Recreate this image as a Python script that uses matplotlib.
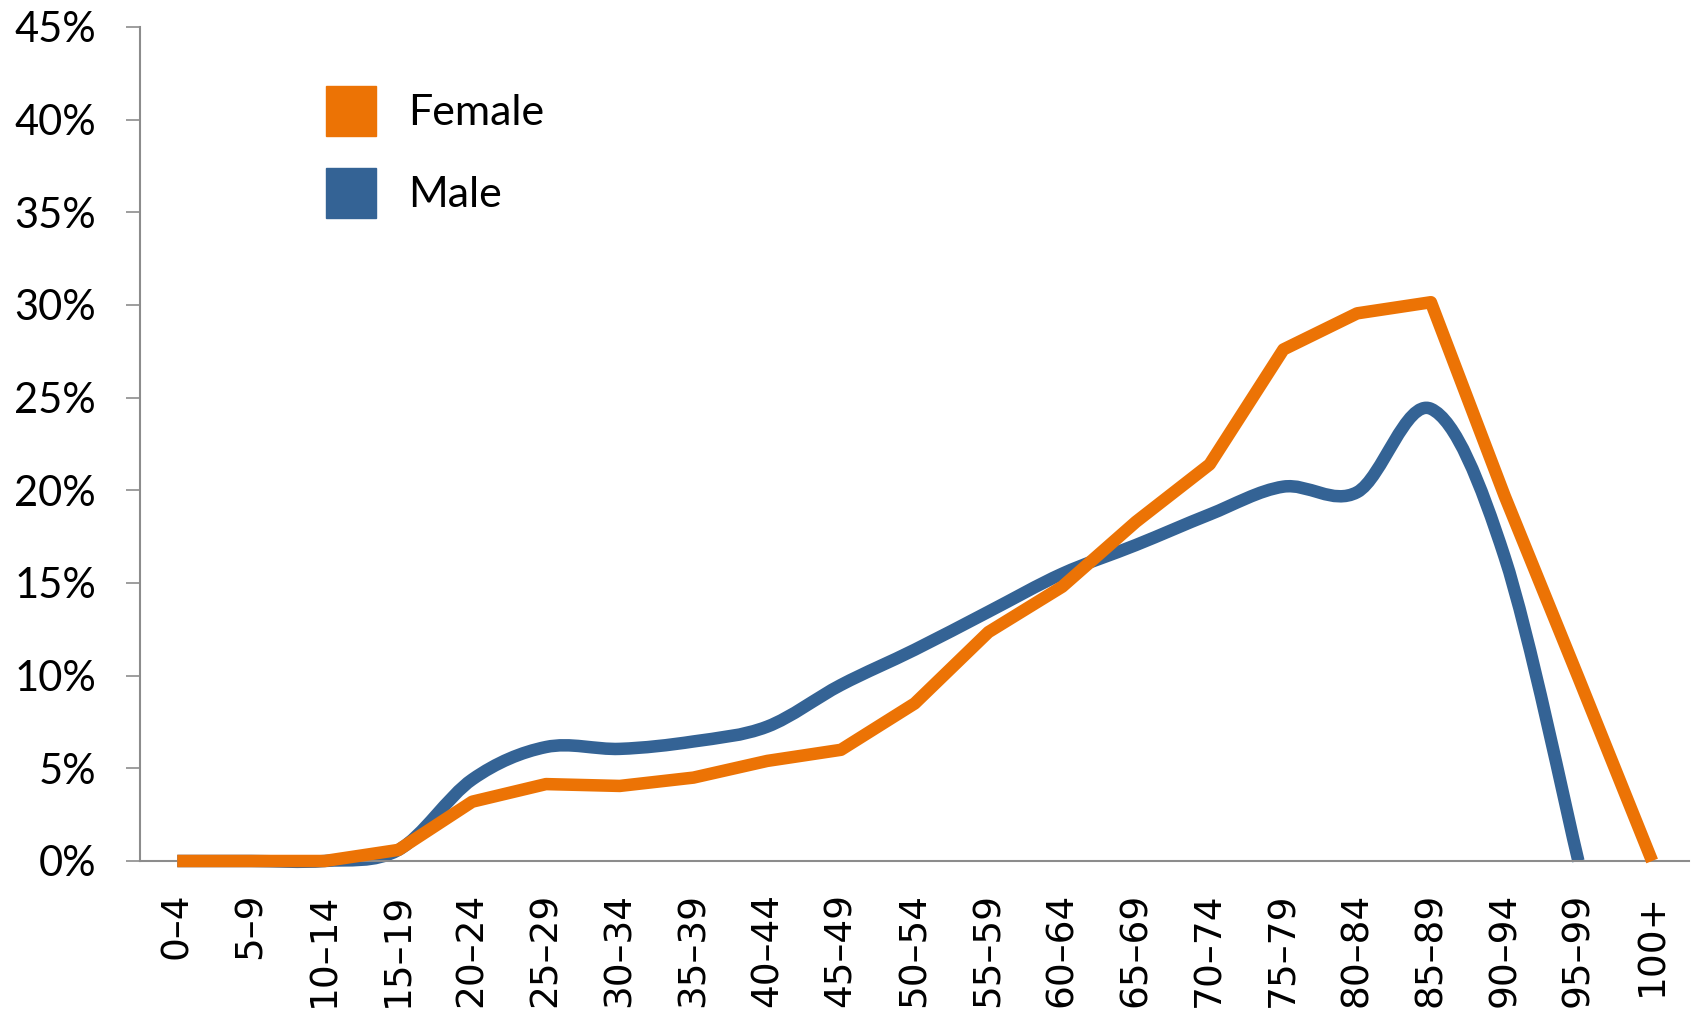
import matplotlib
matplotlib.use('Agg')
import matplotlib.pyplot as plt
from matplotlib.path import Path
from matplotlib.patches import PathPatch, Patch
from matplotlib.ticker import PercentFormatter
import numpy as np

ages = ['0–4', '5–9', '10–14', '15–19', '20–24', '25–29', '30–34', '35–39',
        '40–44', '45–49', '50–54', '55–59', '60–64', '65–69', '70–74',
        '75–79', '80–84', '85–89', '90–94', '95–99', '100+']
female = [0, 0, 0, 0.6, 3.2, 4.15, 4.05, 4.5, 5.4, 6.0, 8.5, 12.35, 14.8,
          18.3, 21.4, 27.6, 29.55, 30.15, 19.7, 9.9, 0]
male = [0, 0, 0, 0.6, 4.4, 6.15, 6.05, 6.45, 7.25, 9.5, 11.4, 13.45, 15.5,
        17.05, 18.7, 20.2, 19.9, 24.4, 16.4, 0]

orange = '#EC7305'
blue = '#346395'
grey = '#8c8c8c'


def smooth_path(xs, ys):
    # excel style smoothed line (catmull-rom as bezier)
    pts = np.column_stack([xs, ys]).astype(float)
    n = len(pts)
    verts = [pts[0]]
    codes = [Path.MOVETO]
    for i in range(n - 1):
        p0 = pts[i - 1] if i > 0 else pts[i]
        p1 = pts[i]
        p2 = pts[i + 1]
        p3 = pts[i + 2] if i + 2 < n else pts[i + 1]
        c1 = p1 + (p2 - p0) / 6
        c2 = p2 - (p3 - p1) / 6
        verts += [c1, c2, p2]
        codes += [Path.CURVE4] * 3
    return Path(verts, codes)


fig = plt.figure(figsize=(16.94, 10.14), dpi=100)
ax = fig.add_axes([140.4 / 1694, 1 - 861 / 1014, 1548.6 / 1694, 834 / 1014])

x = np.arange(len(ages))
mpath = smooth_path(x[:len(male)], np.array(male) / 100)
ax.add_patch(PathPatch(mpath, fill=False, edgecolor=blue, lw=9,
                       joinstyle='round', capstyle='butt', clip_on=False, zorder=2))
ax.plot(x, np.array(female) / 100, color=orange, lw=9, solid_joinstyle='round',
        solid_capstyle='butt', clip_on=False, zorder=3)

ax.set_xlim(-0.5, len(ages) - 0.5)
ax.set_ylim(0, 0.45)
ax.set_yticks(np.arange(0, 0.46, 0.05))
ax.yaxis.set_major_formatter(PercentFormatter(1.0, decimals=0))
ax.set_xticks(x)
ax.set_xticklabels(ages, rotation=90, fontsize=27, family='DejaVu Sans', va='top')

for lab in ax.get_yticklabels():
    lab.set_family('Lato')
    lab.set_fontsize(30)

ax.tick_params(axis='y', length=10, width=1.2, color=grey, pad=22)
ax.tick_params(axis='x', length=0, pad=23)

for s in ['top', 'right']:
    ax.spines[s].set_visible(False)
for s in ['left', 'bottom']:
    ax.spines[s].set_color(grey)
    ax.spines[s].set_linewidth(1.5)

handles = [Patch(facecolor=orange, edgecolor=orange), Patch(facecolor=blue, edgecolor=blue)]
ax.legend(handles, ['Female', 'Male'], loc='upper left',
          bbox_to_anchor=(326 / 1694, 1 - 86 / 1014), bbox_transform=fig.transFigure,
          frameon=False, borderpad=0, borderaxespad=0,
          prop={'family': 'Lato', 'size': 31},
          handlelength=1.15, handleheight=1.4, handletextpad=0.75, labelspacing=0.75)

fig.savefig('out.png', dpi=100)
